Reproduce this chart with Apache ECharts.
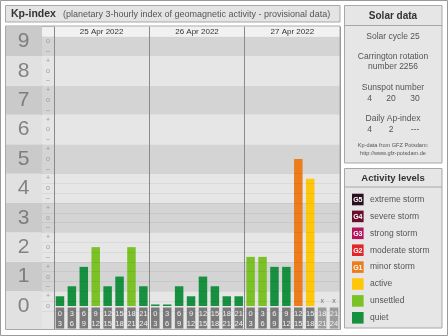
<!DOCTYPE html>
<html><head><meta charset="utf-8">
<script src="https://cdn.jsdelivr.net/npm/echarts@6/dist/echarts.min.js"></script>
<style>html,body{margin:0;padding:0;background:#fff}#c{width:448px;height:336px}</style>
</head><body><div id="c"></div>
<script>
// ---- data ----
const days = ['25 Apr 2022', '26 Apr 2022', '27 Apr 2022'];
const slotStart = ['0', '3', '6', '9', '12', '15', '18', '21'];
const slotEnd = ['3', '6', '9', '12', '15', '18', '21', '24'];
const kpDay1 = [0.33, 0.67, 1.33, 2, 0.67, 1, 2, 0.67];
const kpDay2 = [0, 0, 0.67, 0.33, 1, 0.67, 0.33, 0.33];
const kpDay3 = [1.67, 1.67, 1.33, 1.33, 5, 4.33, null, null];
const kpLevels = [0, 1, 2, 3, 4, 5, 6, 7, 8, 9];
const subSigns = ['\u2013', 'o', '+'];
const subOffsets = [-1/3, 0, 1/3];
const levelNames = ['extreme storm', 'severe storm', 'strong storm', 'moderate storm', 'minor storm', 'active', 'unsettled', 'quiet'];
const levelTags = ['G5', 'G4', 'G3', 'G2', 'G1', '', '', ''];
const levelColors = ['#2b0f1f', '#6b0d2e', '#b3155c', '#e3262a', '#ec7c1c', '#ffc70b', '#7ac226', '#17903f'];
const levelUpper = [Infinity, 8.5, 7.5, 6.5, 5.5, 4.5, 3.5, 1.5];
const solarCycle = '25';
const carrington = '2256';
const sunspot = ['4', '20', '30'];
const apIndex = ['4', '2', '---'];

// ---- build ----
const FONT = '"Liberation Sans", Arial, sans-serif';
const Y_MIN = -0.8, Y_MAX = 9.5, HEADER = 9 + 1/6;
const GTOP = 26.6, GH = 302.9;
const kpValues = kpDay1.concat(kpDay2, kpDay3);
function kpColor(v) {
  let c = levelColors[7];
  for (let i = 7; i >= 0; i--) { if (v < levelUpper[i]) { c = levelColors[i]; break; } }
  return c;
}
const cats = kpValues.map((v, i) => ({
  value: days[Math.floor(i / 8)] + '|' + i,
  textStyle: v == null ? { backgroundColor: '#9c9c9c' } : undefined
}));
const barData = kpValues.map(v => v == null ? '-' : { value: v, itemStyle: { color: kpColor(v) } });
const missing = [];
kpValues.forEach((v, i) => { if (v == null) missing.push([i, 0]); });

function bands(dark, light, top, withHeader) {
  const arr = kpLevels.map(k => [
    { yAxis: k === 0 ? Y_MIN : k - 0.5, itemStyle: { color: k % 2 ? dark : light } },
    { yAxis: k === 9 ? top : k + 0.5 }
  ]);
  if (withHeader) arr.push([{ yAxis: HEADER, itemStyle: { color: '#f1f1f1' } }, { yAxis: Y_MAX }]);
  return arr;
}
const minorLines = [];
for (let j = -1; j <= 27; j++) { if (j % 2 !== 0) minorLines.push({ yAxis: j / 6 }); }
const minorLineSpec = {
  silent: true, symbol: 'none', label: { show: false }, animation: false,
  lineStyle: { color: 'rgba(0,0,0,0.05)', type: 'solid', width: 1 },
  data: minorLines
};
const signData = [];
kpLevels.forEach(k => subOffsets.forEach((o, si) => {
  const v = k + o;
  if (v >= -0.01 && v <= 9.01) signData.push({ value: [0.5, v], sign: subSigns[si] });
}));

const yAx = gi => ({ gridIndex: gi, type: 'value', min: Y_MIN, max: Y_MAX, show: false });

const option = {
  animation: false,
  backgroundColor: '#ffffff',
  grid: [
    { left: 5, width: 37, top: GTOP, height: GH },
    { left: 42, width: 12, top: GTOP, height: GH, show: true, borderColor: '#9a9a9a', borderWidth: 1, backgroundColor: 'transparent' },
    { left: 54, width: 286, top: GTOP, height: GH }
  ],
  xAxis: [
    { gridIndex: 0, type: 'value', min: 0, max: 1, show: false },
    { gridIndex: 1, type: 'value', min: 0, max: 1, show: false },
    { gridIndex: 2, type: 'category', data: cats, z: 3,
      axisLine: { show: false }, axisTick: { show: false }, splitLine: { show: false },
      axisLabel: { interval: 0, inside: true, margin: 1, fontSize: 7.5, lineHeight: 10, fontFamily: FONT,
        color: '#f2f2f2', backgroundColor: '#7a7a7a', width: 8.5, align: 'center', padding: [1, 0, 0, 0],
        overflow: 'none', formatter: (v, i) => slotStart[i % 8] + '\n' + slotEnd[i % 8] } },
    { gridIndex: 2, type: 'category', data: days, position: 'top', z: 3,
      axisLine: { show: false }, axisTick: { show: false },
      splitLine: { show: true, interval: 0, lineStyle: { color: '#8a8a8a', width: 1 } },
      axisLabel: { interval: 0, inside: true, margin: 1, fontSize: 8, color: '#333', fontFamily: FONT } }
  ],
  yAxis: [yAx(0), yAx(1), yAx(2)],
  series: [
    { type: 'scatter', xAxisIndex: 0, yAxisIndex: 0, z: 2, silent: true, symbolSize: 0,
      data: kpLevels.map(k => [0.5, k]),
      label: { show: true, position: 'inside', formatter: p => String(p.value[1]), fontSize: 21, color: '#6a6a6a', fontFamily: FONT },
      markArea: { silent: true, z: 1, data: bands('#cacaca', '#e1e1e1', Y_MAX, false) } },
    { type: 'scatter', xAxisIndex: 1, yAxisIndex: 1, z: 2, silent: true, symbolSize: 0,
      data: signData,
      label: { show: true, position: 'inside', formatter: p => p.data.sign, fontSize: 7, color: '#8a8a8a', fontFamily: FONT },
      markArea: { silent: true, data: bands('#d4d4d4', '#e6e6e6', HEADER, true) },
      markLine: minorLineSpec },
    { type: 'scatter', xAxisIndex: 2, yAxisIndex: 2, z: 1, silent: true, data: [],
      markArea: { silent: true, data: bands('#d4d4d4', '#e6e6e6', HEADER, true) },
      markLine: minorLineSpec },
    { type: 'bar', xAxisIndex: 2, yAxisIndex: 2, z: 2, barWidth: 8.5, barMinHeight: 1.5, silent: true,
      data: barData },
    { type: 'scatter', xAxisIndex: 2, yAxisIndex: 2, z: 2, silent: true, symbolSize: 0, data: missing,
      label: { show: true, position: 'top', distance: 1, formatter: 'x', fontSize: 7, color: '#555', fontFamily: FONT } }
  ],
  graphic: { elements: (function () {
    const els = [];
    els.push({ type: 'rect', z: 100, silent: true, shape: { x: 0.5, y: 0.5, width: 447, height: 335 }, style: { fill: 'none', stroke: '#9a9a9a', lineWidth: 1 } });
    // left panel frames
    els.push({ type: 'rect', z: 100, silent: true, shape: { x: 5.5, y: 5.5, width: 334.5, height: 16.5 }, style: { fill: '#e4e4e4', stroke: '#a8a8a8', lineWidth: 1 } });
    els.push({ type: 'rect', z: 100, silent: true, shape: { x: 5.5, y: 26, width: 334.5, height: 303.5 }, style: { fill: 'none', stroke: '#a8a8a8', lineWidth: 1 } });
    els.push({ type: 'text', z: 101, silent: true, x: 11, y: 14.5, style: { text: 'Kp-index', font: 'bold 10.5px ' + FONT, fill: '#333', verticalAlign: 'middle' } });
    els.push({ type: 'text', z: 101, silent: true, x: 63, y: 14.5, style: { text: '(planetary 3-hourly index of geomagnetic activity - provisional data)', font: '9px ' + FONT, fill: '#555', verticalAlign: 'middle' } });
    // solar data panel
    const cx = 393;
    els.push({ type: 'rect', z: 100, silent: true, shape: { x: 344.5, y: 5.5, width: 97.5, height: 157.5 }, style: { fill: '#e6e6e6', stroke: '#a8a8a8', lineWidth: 1 } });
    els.push({ type: 'line', z: 101, silent: true, shape: { x1: 344.5, y1: 25.5, x2: 442, y2: 25.5 }, style: { stroke: '#a8a8a8', lineWidth: 1 } });
    const t = (x, y, s, size, bold, color) => ({ type: 'text', z: 102, silent: true, x: x, y: y,
      style: { text: s, font: (bold ? 'bold ' : '') + size + 'px ' + FONT, fill: color || '#555', align: 'center', verticalAlign: 'middle' } });
    els.push(t(cx, 16, 'Solar data', 10, true, '#333'));
    els.push(t(cx, 37, 'Solar cycle ' + solarCycle, 8.5));
    els.push(t(cx, 57, 'Carrington rotation', 8.5));
    els.push(t(cx, 67, 'number ' + carrington, 8.5));
    els.push(t(cx, 87.5, 'Sunspot number', 8.5));
    const colX = [369.5, 391, 415];
    sunspot.forEach((s, i) => els.push(t(colX[i], 99, s, 8.5)));
    els.push(t(cx, 118.5, 'Daily Ap-index', 8.5));
    apIndex.forEach((s, i) => els.push(t(colX[i], 129.5, s, 8.5)));
    els.push(t(cx, 145.5, 'Kp-data from GFZ Potsdam:', 5.6));
    els.push(t(cx, 153, 'http://www.gfz-potsdam.de', 5.6));
    // activity levels panel
    els.push({ type: 'rect', z: 100, silent: true, shape: { x: 344.5, y: 168.5, width: 97.5, height: 159.5 }, style: { fill: '#e6e6e6', stroke: '#a8a8a8', lineWidth: 1 } });
    els.push({ type: 'line', z: 101, silent: true, shape: { x1: 344.5, y1: 187, x2: 442, y2: 187 }, style: { stroke: '#a8a8a8', lineWidth: 1 } });
    els.push(t(cx, 178.5, 'Activity levels', 9.5, true, '#333'));
    levelNames.forEach((n, i) => {
      const yc = 199.5 + 16.9 * i;
      els.push({ type: 'rect', z: 102, silent: true, shape: { x: 352, y: yc - 5.8, width: 11.6, height: 11.6 }, style: { fill: levelColors[i] } });
      if (levelTags[i]) els.push(t(357.8, yc + 0.5, levelTags[i], 7, true, '#fff'));
      els.push({ type: 'text', z: 102, silent: true, x: 370, y: yc, style: { text: n, font: '8.5px ' + FONT, fill: '#555', verticalAlign: 'middle' } });
    });
    return els;
  })() }
};
const chart = echarts.init(document.getElementById('c'));
chart.setOption(option);
</script>
</body></html>
